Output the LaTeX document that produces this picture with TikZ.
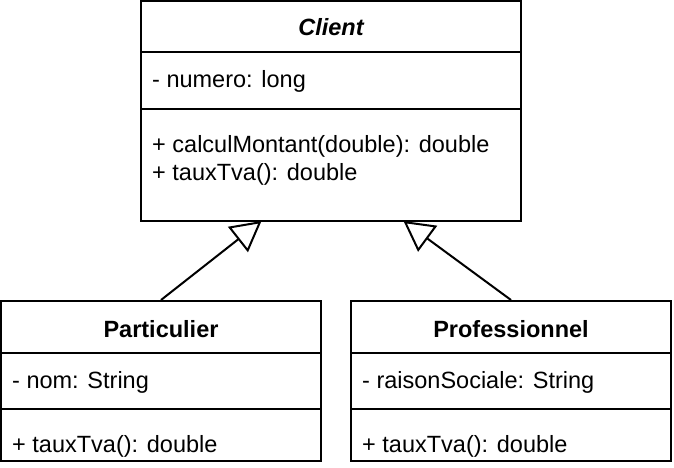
\documentclass[tikz,border=0pt]{standalone}
\usepackage{fontspec}
\setmainfont{Liberation Sans}
\usetikzlibrary{arrows.meta}
\tikzset{
  classbox/.style={draw=black, line width=2pt, fill=white, inner sep=0pt, rectangle},
  sepline/.style={draw=black, line width=2pt},
  txt/.style={inner sep=0pt, anchor=base west, font=\fontsize{23.5}{28}\selectfont},
  ttl/.style={inner sep=0pt, anchor=base, font=\fontsize{23.5}{28}\selectfont\bfseries},
  inherit/.style={draw=black, line width=2pt, -{Triangle[open, length=30pt, width=32pt, line width=2pt]}}
}
\begin{document}
\begin{tikzpicture}[x=1pt,y=-1pt]
\useasboundingbox (0,0) rectangle (674,468);
% boxes
\node[classbox, minimum width=380pt, minimum height=220pt] (client) at (331,111) {};
\node[classbox, minimum width=320pt, minimum height=160pt] (part) at (161,381) {};
\node[classbox, minimum width=320pt, minimum height=160pt] (pro) at (511,381) {};
% separators
\draw[sepline] (client.west |- 0,52) -- (client.east |- 0,52);
\draw[sepline] (client.west |- 0,109) -- (client.east |- 0,109);
\draw[sepline] (part.west |- 0,353) -- (part.east |- 0,353);
\draw[sepline] (part.west |- 0,409) -- (part.east |- 0,409);
\draw[sepline] (pro.west |- 0,353) -- (pro.east |- 0,353);
\draw[sepline] (pro.west |- 0,409) -- (pro.east |- 0,409);
% texts
\node[ttl, font=\fontsize{23.5}{28}\selectfont\bfseries\itshape] (ct) at (331,36) {Client};
\node[txt] (ca) at (152,87.5) {- numero: long};
\node[txt] (cm1) at (152,152.5) {+ calculMontant(double): double};
\node[txt] (cm2) at (152,180.5) {+ tauxTva(): double};
\node[ttl] (pt) at (161,337) {Particulier};
\node[txt] (pa) at (12,388) {- nom: String};
\node[txt] (pm) at (12,452) {+ tauxTva(): double};
\node[ttl] (prt) at (511,337) {Professionnel};
\node[txt] (pra) at (362,388) {- raisonSociale: String};
\node[txt] (prm) at (362,452) {+ tauxTva(): double};
% connectors
\coordinate (t1) at (261.5,221);
\coordinate (t2) at (403.5,221);
\draw[inherit] (part.north) -- (t1);
\draw[inherit] (pro.north) -- (t2);
\end{tikzpicture}
\end{document}
